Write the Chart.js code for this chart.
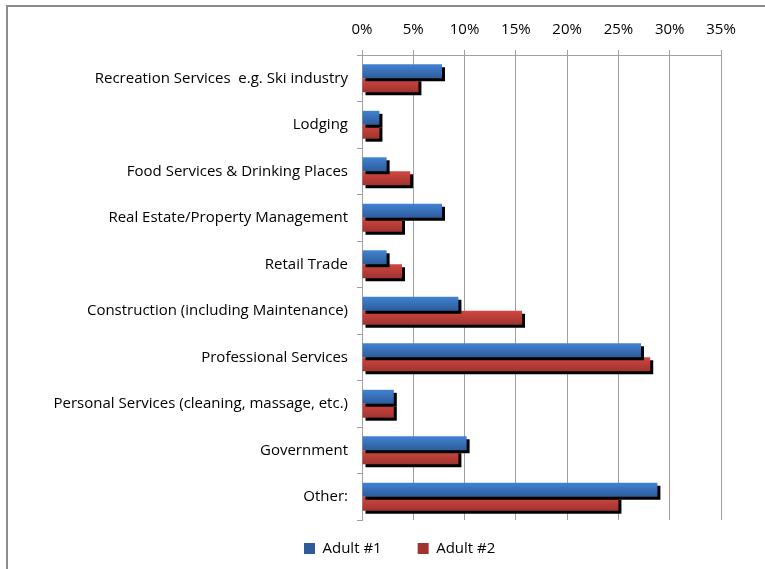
<!DOCTYPE html>
<html>
<head>
<meta charset="utf-8">
<script src="https://cdn.jsdelivr.net/npm/chart.js@4/dist/chart.umd.min.js"></script>
<style>
  html, body { margin: 0; padding: 0; background: #fff; }
  #wrap { position: relative; width: 765px; height: 569px; overflow: hidden; }
  #frame { position: absolute; left: 6px; top: 5px; width: 900px; height: 700px;
           border-left: 2px solid #8c8c8c; border-top: 2px solid #8c8c8c; }
  #mycanvas { position: absolute; left: 0; top: 0; }
</style>
</head>
<body>
<div id="wrap">
  <div id="frame"></div>
  <canvas id="mycanvas" width="765" height="569"></canvas>
</div>
<script>
// data (percent)
var categories = [
  'Recreation Services  e.g. Ski industry',
  'Lodging',
  'Food Services & Drinking Places',
  'Real Estate/Property Management',
  'Retail Trade',
  'Construction (including Maintenance)',
  'Professional Services',
  'Personal Services (cleaning, massage, etc.)',
  'Government',
  'Other:'
];
var seriesNames = ['Adult #1', 'Adult #2'];
var adult1 = [7.8, 1.7, 2.4, 7.8, 2.4, 9.4, 27.2, 3.1, 10.2, 28.8];
var adult2 = [5.5, 1.7, 4.7, 3.9, 3.9, 15.6, 28.1, 3.1, 9.4, 25.0];
var tickMax = 35;
var tickStep = 5;

Chart.defaults.font.family = '"Open Sans", sans-serif';
Chart.defaults.font.size = 15;
Chart.defaults.color = '#000';

// vertical gradient for each bar, taken from the category scale
function barFill(light, dark, solid) {
  return function(c) {
    if (c.type !== 'data') return solid;
    var y = c.chart.scales.y;
    if (!y || y.bottom === undefined) return solid;
    var center = y.getPixelForValue(c.dataIndex);
    var band = (y.bottom - y.top) / categories.length * 0.6 / 2;
    var y0 = c.datasetIndex === 0 ? center - band : center;
    if (!isFinite(y0)) return solid;
    var g = c.chart.ctx.createLinearGradient(0, y0, 0, y0 + band);
    g.addColorStop(0, light);
    g.addColorStop(1, dark);
    return g;
  };
}

// black drop shadow behind bars
var barShadow = {
  id: 'barShadow',
  beforeDatasetsDraw: function(chart) {
    var ctx = chart.ctx;
    ctx.save();
    ctx.shadowColor = '#000';
    ctx.shadowOffsetX = 3;
    ctx.shadowOffsetY = 3;
    ctx.shadowBlur = 0;
  },
  afterDatasetsDraw: function(chart) {
    chart.ctx.restore();
  }
};

// move legend down / right like the original
var legendPlace = {
  id: 'legendPlace',
  afterLayout: function(chart) {
    var lg = chart.legend;
    var dy = 505 - lg.top;
    lg.top += dy; lg.bottom += dy;
    var dx = 268 - lg.left;
    lg.left += dx; lg.right += dx;
  }
};

var ctx = document.getElementById('mycanvas');
var chart = new Chart(ctx, {
  type: 'bar',
  data: {
    labels: categories,
    datasets: [
      {
        label: seriesNames[0],
        data: adult1,
        backgroundColor: barFill('#4282d3', '#2d5c9b', '#3a72c0')
      },
      {
        label: seriesNames[1],
        data: adult2,
        backgroundColor: barFill('#d2473f', '#9f3330', '#c03c38')
      }
    ]
  },
  plugins: [barShadow, legendPlace],
  options: {
    indexAxis: 'y',
    responsive: false,
    animation: false,
    categoryPercentage: 0.6,
    barPercentage: 1.0,
    layout: { padding: { left: 0, right: 44, top: 0, bottom: -12 } },
    scales: {
      x: {
        position: 'top',
        min: 0,
        max: tickMax,
        ticks: {
          stepSize: tickStep,
          padding: 11,
          callback: function(v) { return v + '%'; }
        },
        grid: { color: '#a0a0a0', tickLength: 5, lineWidth: 1 },
        border: { color: '#a0a0a0' },
        afterFit: function(scale) { scale.height = 55; }
      },
      y: {
        grid: { drawOnChartArea: false, color: '#a0a0a0', tickLength: 5, offset: true },
        border: { color: '#a0a0a0' },
        ticks: { padding: 9 },
        afterFit: function(scale) { scale.width = 362; }
      }
    },
    plugins: {
      legend: {
        position: 'bottom',
        align: 'start',
        labels: { boxWidth: 11, boxHeight: 11, padding: 36 }
      },
      tooltip: { enabled: false }
    }
  }
});
</script>
</body>
</html>
